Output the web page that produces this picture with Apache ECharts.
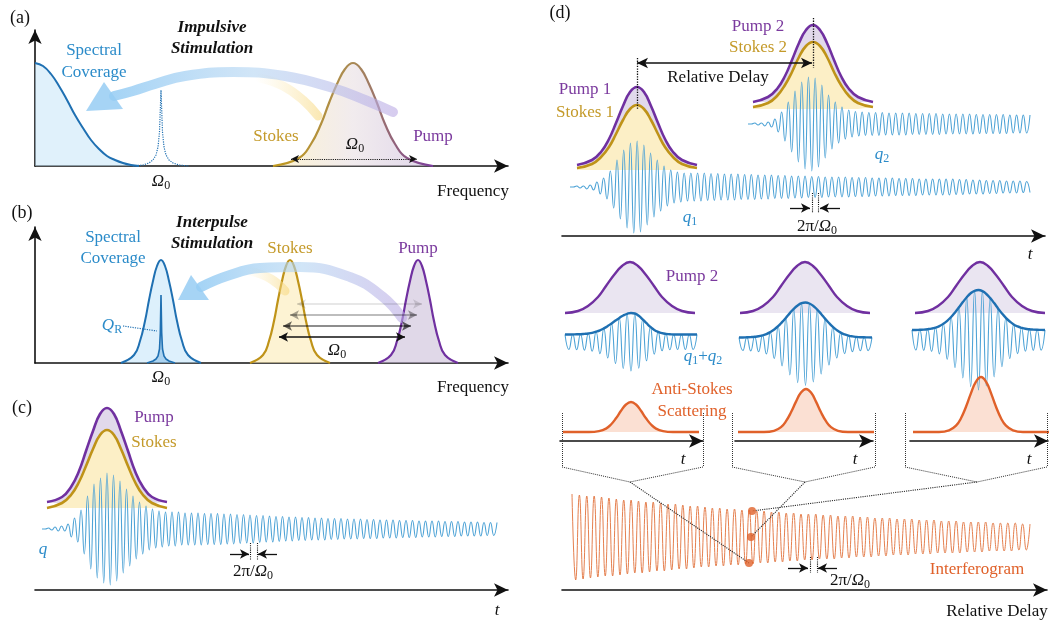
<!DOCTYPE html>
<html>
<head>
<meta charset="utf-8">
<title>Impulsive vs interpulse stimulation</title>
<script src="https://cdn.jsdelivr.net/npm/echarts@6.0.0/dist/echarts.min.js"></script>
<style>
html,body{margin:0;padding:0;background:#ffffff;}
#chart{width:1051px;height:621px;}
</style>
</head>
<body>
<div id="chart"></div>
<script>
/* ================= DATA ================= */
// (a) impulsive stimulation: spectra [frequency, amplitude]
const specCoverageA = [[0,103],[8,100],[16,92],[24,80],[32,66],[40,51],[48,38],[56,26],[64,17],[72,10],[80,6],[88,3],[96,1],[104,0]];
const ramanLineA = [[98,0],[108,1],[114,3],[118,6],[121,11],[123,19],[124.5,34],[126,76],[127.5,34],[129,19],[131,11],[134,6],[138,3],[144,1],[154,0]];
const laserSpectrumA = [[238,0],[264,8],[276,22],[286,42],[294,63],[302,82],[310,97],[318,103],[326,97],[334,82],[342,63],[350,42],[360,22],[372,8],[398,0]];
const arcA = [[358,54],[330,66],[298,78],[250,90],[198,94],[150,90],[120,82],[98,75],[79,70]];
const arcYellowA = [[283,50],[268,66],[248,80],[225,88]];
const headA = [[51,55,69,84,88,57]];

// (b) interpulse stimulation
const specCoverageB = [[86,0],[99,8],[105,22],[110,42],[114,63],[118,82],[122,97],[126,103],[130,97],[134,82],[138,63],[142,42],[147,22],[153,8],[166,0]];
const ramanLineB = [[112,0],[118,2],[121,4],[123,7],[124.5,14],[125.3,30],[126,68],[126.7,30],[127.5,14],[129,7],[131,4],[134,2],[140,0]];
const stokesSpectrumB = [[215,0],[228,8],[234,22],[239,42],[243,63],[247,82],[251,97],[255,103],[259,97],[263,82],[267,63],[271,42],[276,22],[282,8],[295,0]];
const pumpSpectrumB = [[343,0],[356,8],[362,22],[367,42],[371,63],[375,82],[379,97],[383,103],[387,97],[391,82],[395,63],[399,42],[404,22],[410,8],[423,0]];
const arcB = [[367,45],[348,66],[315,86],[265,96],[225,95],[192,87],[166,76]];
const arcYellowB = [[250,72],[236,84],[215,92]];
const headB = [[143,63,156,88,174,63]];

// (c) single pulse pair and vibrational coherence q
const pumpPulseC = [[12,88],[27,93],[36,103],[44,119],[51,139],[58,159],[65,176],[72,182],[79,176],[86,159],[93,139],[100,119],[108,103],[117,93],[132,88]];
const stokesPulseC = [[12,82],[27,87],[36,95],[44,108],[51,124],[58,141],[65,155],[72,160],[79,155],[86,141],[93,124],[100,108],[108,95],[117,87],[132,82]];
const coherenceC = [0,0,1,-1,2,-2,3,-2,5,-8,11,-13,19,-25,33,-40,45,-49,51,-54,56,-56,54,-52,48,-44,40,-37,33,-30,27,-25,23,-21,20,-19,18,-18,17,-17,17,-17,17,-16,
  16,-16,16,-16,16,-16,15.5,-15.5,15.5,-15.5,15.5,-15.5,15,-15,
  15,-15,14.5,-14.5,14.5,-14,14,-14,13.5,-13.5,13.5,-13,13,-13,12.5,
  -12.5,12.5,-12,12,-12,12,-11.5,11.5,-11.5,11.5,-11,11,-11,11,-11,10.5,-10.5,10.5,-10.5,10.5,-10,10,-10,10,
  -10,10,-9.5,9.5,-9.5,9.5,-9.5,9,-9,9,-9,9,-9,8.5,-8.5,8.5,-8.5,8.5,-8.5,8,-8,8,
  -8,8,-8,8,-7.5,7.5,-7.5,7.5,-7.5,7.5,-7,7,-7,7,-7,7,-7,6.5,-6.5,6.5,-6.5,6.5];

// (d) two pulse pairs
const pump1 = [[15,71],[30,76],[39,84],[47,97],[54,113],[61,130],[68,144],[75,149],[82,144],[89,130],[96,113],[103,97],[111,84],[120,76],[135,71]];
const stokes1 = [[15,68],[30,72],[39,79],[47,89],[54,102],[61,116],[68,127],[75,131],[82,127],[89,116],[96,102],[103,89],[111,79],[120,72],[135,68]];
const pump2 = [[191,134],[206,139],[215,147],[223,160],[230,176],[237,193],[244,206],[251,211],[258,206],[265,193],[272,176],[279,160],[287,147],[296,139],[311,134]];
const stokes2 = [[191,129],[206,133],[215,140],[223,151],[230,164],[237,179],[244,190],[251,194],[258,190],[265,179],[272,164],[279,151],[287,140],[296,133],[311,129]];
const coherence1 = [0,0,1,-1,1,-2,2,-3,5,-7,9,-12,16,-21,27,-32,37,-41,44,-46,46,-45,42,-38,34,-30,27,-24,21,-19,17,-16,15,-15,14,-14,14,
  -14,14,-14,14,-13.5,13.5,-13.5,13.5,-13,13,-13,
  13,-13,13,-12.5,12.5,-12.5,12.5,-12.5,12,-12,12,-12,12,-11.5,11.5,-11.5,11.5,-11.5,11,-11,11,-11,11,-10.5,10.5,-10.5,10.5,-10.5,10,-10,10,-10,10,
  -10,10,-10,9.5,-9.5,9.5,-9.5,9.5,-9.5,9,-9,9,-9,9,-9,9,-8.5,8.5,-8.5,8.5,-8.5,8.5,-8.5,8,-8,8,-8,8,-8,8,-8,8,-8,
  8,-7.5,7.5,-7.5,7.5,-7,7,-7,7,-7,6.5,-6.5,6.5,-6.5,6.5,-6,6,-6,6,-6,6,-5.5,5.5,-5.5];
const coherence2 = [0,0,1,-1,1,-2,2,-3,5,-8,12,-17,22,-28,33,-38,42,-45,47,-47,46,-43,39,-34,29,-25,22,-19,17,-15,14,-13,12.5,-12,12,-11.5,
  11.5,-11.5,11.5,-11.5,11.5,-11,11,-11,11,-11,11,-11,11,-10.5,10.5,-10.5,10.5,-10.5,10.5,-10.5,10.5,-10.5,
  10,-10,10,-10,10,-10,10,-10,10,-10,9.5,-9.5,9.5,-9.5,9.5,-9.5,9.5,-9.5,9.5,-9.5,9,-9,9,-9,9,-9,9];
const pump2Window = [[5,128],[18,130],[28,135],[38,144],[46,155],[54,166],[62,175],[70,179],[78,175],[86,166],[94,155],[102,144],[112,135],[122,130],[135,128]];
const sumCoherence1 = [7.5,-7.5,7.6,-7.7,7.8,-8.1,8.5,-9.2,10.3,-11.7,13.6,-15.9,18.6,-21.4,24.1,-26.5,28.2,-29,28.5,-26.2,22.7,-18.8,15.1,-12.1,10.1,-8.8,8.1,-7.8,7.5,-7.5,7.5,-7.5,7.5,-7.5,7.5];
const sumCoherence2 = [6.5,-6.5,6.7,-6.9,7.2,-7.7,8.6,-9.9,11.9,-14.5,17.8,-21.9,26.3,-30.9,35.2,-38.6,40.8,-41.5,40.5,-38,34.4,-30,25.4,-21,17.1,-13.9,11.4,-9.6,8.4,-7.6,7.1,-6.8,6.7,-6.6,6.5];
const sumCoherence3 = [10,-10,10.2,-10.4,10.8,-11.4,12.4,-13.9,16.2,-19.2,23,-27.6,32.7,-37.9,42.8,-46.7,49.2,-50,48.9,-46,41.9,-36.9,31.6,-26.6,22.2,-18.5,15.6,-13.6,12.2,-11.2,10.7,-10.4,10.2,-10.1,10];
const antiStokes1 = [[3,9],[29,9],[39,9.9],[46,12.4],[51,16.5],[56,22.7],[61,30.2],[66,36.5],[71,39],[76,36.5],[81,30.2],[86,22.7],[91,16.5],[96,12.4],[103,9.9],[113,9],[139,9]];
const antiStokes2 = [[3,9],[29,9],[39,10.2],[46,13.9],[51,19.8],[56,28.7],[61,39.4],[66,48.4],[71,52],[76,48.4],[81,39.4],[86,28.7],[91,19.8],[96,13.9],[103,10.2],[113,9],[139,9]];
const antiStokes3 = [[3,9],[29,9],[39,10.6],[46,15.3],[51,22.8],[56,34.2],[61,47.9],[66,59.4],[71,64],[76,59.4],[81,47.9],[86,34.2],[91,22.8],[96,15.3],[103,10.6],[113,9],[139,9]];
const interferogram = [43,-43,42,-42,41,-41,41,-40,40,-39, 39,-39,38,-38,37,-37,37,-36,36,-36,
  35,-35,35,-34,34,-34,33,-33,33,-32, 32,-32,31,-31,31,-30,30,-30,29,-29,
  29,-29,28,-28,28,-28,27,-27,27,-27, 26,-26,26,-26,25,-25,25,-25,24,-24,
  24,-24,23,-23,23,-23,23,-22,22,-22, 22,-22,21,-21,21,-21,21,-20,20,-20,
  20,-20,19,-19,19,-19,19,-18,18,-18, 18,-18,18,-17,17,-17,17,-17,17,-16,
  16,-16,16,-16,16,-16,15,-15,15,-15, 15,-15,15,-14,14,-14,14,-14,14,-14,
  14,-13,13,-13,13];
const sampledDelays = [[187,27],[189,53],[190,79]];

/* ================= STYLE ================= */
const serif = "'Liberation Serif','DejaVu Serif',serif";
const C = {
  purple:'#7030a0', purpleText:'#7b3a9e', purpleFill:'#e1d9eb',
  gold:'#bf9318', goldText:'#c49a2a', yellowFill:'#fcefc6',
  blueDark:'#1f70b2', blueWave:'#4ea3d6', blueText:'#2b8bc9',
  orange:'#e0612a', orangeFill:'#f8cbb4', orangeWave:'#e5804f'
};
const LG = (stops) => new echarts.graphic.LinearGradient(0,0,1,0, stops.map((c,i)=>({offset:i/(stops.length-1), color:c})));

const grids=[], xAxes=[], yAxes=[], series=[];
function axisCfg(min,max,arrow){
  return {type:'value',min,max,show:true,
    axisLine:{show:!!arrow,onZero:true,symbol:['none','arrow'],symbolSize:[10,14],lineStyle:{color:'#111',width:1.6}},
    axisTick:{show:false},axisLabel:{show:false},splitLine:{show:false}};
}
function valueGrid(left,top,width,height,xArrow,yArrow){
  grids.push({left,top,width,height,containLabel:false});
  const gi=grids.length-1;
  xAxes.push(Object.assign(axisCfg(0,width,xArrow),{gridIndex:gi}));
  yAxes.push(Object.assign(axisCfg(0,height,yArrow),{gridIndex:gi}));
  return gi;
}
function waveGrid(left,top,width,height,values){
  grids.push({left,top,width,height,containLabel:false});
  const gi=grids.length-1;
  xAxes.push({gridIndex:gi,type:'category',boundaryGap:false,data:values.map((v,i)=>i),show:false});
  yAxes.push({gridIndex:gi,type:'value',min:-height/2,max:height/2,show:false});
  return gi;
}
function curve(gi,data,lineStyle,o){
  series.push(Object.assign({type:'line',xAxisIndex:gi,yAxisIndex:gi,data,smooth:0.45,symbol:'none',showSymbol:false,
    lineStyle,silent:true,animation:false,clip:false,z:2},o||{}));
}
function marks(gi,items,style,symSize){
  series.push({type:'line',xAxisIndex:gi,yAxisIndex:gi,data:[[0,0]],symbol:'none',showSymbol:false,lineStyle:{opacity:0},
    silent:true,animation:false,z:6,
    markLine:{silent:true,animation:false,symbolSize:symSize||[7,9],label:{show:false},
      lineStyle:Object.assign({type:'solid',width:1.2,color:'#111'},style),
      emphasis:{disabled:true},
      data:items.map(it=>[{coord:it[0],symbol:it[2]||'none'},{coord:it[1],symbol:it[3]||'none'}])}});
}
function head(gi,data,color){
  series.push({type:'custom',xAxisIndex:gi,yAxisIndex:gi,data,silent:true,animation:false,z:3,clip:false,
    renderItem:(p,api)=>({type:'polygon',
      shape:{points:[0,2,4].map(k=>api.coord([api.value(k),api.value(k+1)]))},
      style:{fill:color}})});
}
const bandBlue = LG(['rgba(140,200,243,0.8)','rgba(178,212,242,0.6)','rgba(188,170,228,0.6)']);
const bandYellow = LG(['rgba(250,230,165,0)','rgba(247,215,125,0.6)']);

/* ---------- (a) ---------- */
const gA = valueGrid(35,30,473,136,true,true);
curve(gA, specCoverageA, {color:C.blueDark,width:2}, {areaStyle:{color:'rgba(196,229,248,0.75)',origin:'start'}});
curve(gA, ramanLineA, {color:C.blueDark,width:1.2,type:'dotted'}, {smooth:false});
curve(gA, laserSpectrumA, {width:2.2,color:LG(['#c29a1a','#a98a55','#7a3aa0'])},
  {areaStyle:{origin:'start',color:LG(['rgba(252,237,182,0.9)','rgba(232,222,226,0.85)','rgba(205,190,222,0.9)'])}});
curve(gA, arcYellowA, {width:9,cap:'round',color:bandYellow});
curve(gA, arcA, {width:10,cap:'round',color:bandBlue});
head(gA, headA, 'rgba(150,205,243,0.85)');
marks(gA, [[[256,7],[382,7],'arrow','arrow']], {type:'dotted',width:1.1}, [6,8]);
marks(gA, [[[126,3],[126,-3]]], {width:1,color:'#1f70b2'});

/* ---------- (b) ---------- */
const gB = valueGrid(35,227,473,136,true,true);
curve(gB, specCoverageB, {color:C.blueDark,width:2}, {areaStyle:{color:'rgba(185,224,248,0.7)',origin:'start'}});
curve(gB, ramanLineB, {color:C.blueDark,width:1.6}, {smooth:false,areaStyle:{color:'rgba(90,165,220,0.55)',origin:'start'}});
curve(gB, stokesSpectrumB, {color:C.gold,width:2.2}, {areaStyle:{color:'rgba(252,234,176,0.8)',origin:'start'}});
curve(gB, pumpSpectrumB, {color:C.purple,width:2.2}, {areaStyle:{color:'rgba(200,186,214,0.8)',origin:'start'}});
curve(gB, arcYellowB, {width:9,cap:'round',color:bandYellow});
curve(gB, arcB, {width:10,cap:'round',color:bandBlue});
head(gB, headB, 'rgba(150,205,243,0.85)');
marks(gB, [[[262,59],[387,59],'arrow','arrow']], {color:'rgba(0,0,0,0.13)',width:1.5});
marks(gB, [[[255,48],[382,48],'arrow','arrow']], {color:'rgba(0,0,0,0.35)',width:1.5});
marks(gB, [[[248,37],[376,37],'arrow','arrow']], {color:'rgba(0,0,0,0.6)',width:1.5});
marks(gB, [[[244,26],[370,26],'arrow','arrow']], {color:'#111',width:1.5});
marks(gB, [[[88,37],[122,32]]], {type:'dotted',color:C.blueDark,width:1.2});

/* ---------- (c) ---------- */
const gC = valueGrid(35,380,473,210,true,false);
curve(gC, pumpPulseC, {width:0,opacity:0}, {areaStyle:{color:C.purpleFill,opacity:1,origin:87}});
curve(gC, stokesPulseC, {width:0,opacity:0}, {areaStyle:{color:C.yellowFill,opacity:1,origin:82}});
curve(gC, pumpPulseC, {color:C.purple,width:2.6});
curve(gC, stokesPulseC, {color:C.gold,width:2.6});
const gCw = waveGrid(42,469,455,120,coherenceC);
curve(gCw, coherenceC, {color:C.blueWave,width:1.1}, {smooth:0.5});
marks(gC, [[[215,47],[215,30]],[[222,47],[222,30]]], {type:'dotted',width:1.1});
marks(gC, [[[195,36],[214,36],'none','arrow'],[[242,36],[223,36],'none','arrow']], {width:1.3}, [7,9]);

/* ---------- (d) top ---------- */
const gD = valueGrid(562,10,483,226,true,false);
curve(gD, pump1, {width:0,opacity:0}, {areaStyle:{color:C.purpleFill,opacity:1,origin:71}});
curve(gD, stokes1, {width:0,opacity:0}, {areaStyle:{color:C.yellowFill,opacity:1,origin:66}});
curve(gD, pump2, {width:0,opacity:0}, {areaStyle:{color:C.purpleFill,opacity:1,origin:134}});
curve(gD, stokes2, {width:0,opacity:0}, {areaStyle:{color:C.yellowFill,opacity:1,origin:127}});
curve(gD, pump1, {color:C.purple,width:2.6});
curve(gD, stokes1, {color:C.gold,width:2.6});
curve(gD, pump2, {color:C.purple,width:2.6});
curve(gD, stokes2, {color:C.gold,width:2.6});
const gQ1 = waveGrid(570,137,460,100,coherence1);
curve(gQ1, coherence1, {color:C.blueWave,width:1.1}, {smooth:0.5});
const gQ2 = waveGrid(748,74,282,100,coherence2);
curve(gQ2, coherence2, {color:C.blueWave,width:1.1}, {smooth:0.5});
marks(gD, [[[75,178],[75,126]],[[251,218],[251,168]]], {type:'dotted',width:1.3});
marks(gD, [[[75,173],[250,173],'arrow','arrow']], {width:1.5}, [8,11]);
marks(gD, [[[250,43],[250,23]],[[256,43],[256,23]]], {type:'dotted',width:1.1});
marks(gD, [[[228,28],[248,28],'none','arrow'],[[278,28],[258,28],'none','arrow']], {width:1.3}, [7,9]);

/* ---------- (d) middle: three delays ---------- */
const smalls = [
  {left:560,width:143,wLeft:565,wTop:292,wWidth:132,wave:sumCoherence1,as:antiStokes1},
  {left:735,width:138,wLeft:739,wTop:294,wWidth:133,wave:sumCoherence2,as:antiStokes2},
  {left:910,width:138,wLeft:912,wTop:290,wWidth:133,wave:sumCoherence3,as:antiStokes3}
];
smalls.forEach(s=>{
  const gS = valueGrid(s.left,255,s.width,186,true,false);
  curve(gS, pump2Window, {color:C.purple,width:2.4}, {areaStyle:{color:'rgba(205,192,222,0.6)',origin:128}});
  const gW = waveGrid(s.wLeft,s.wTop,s.wWidth,100,s.wave);
  curve(gW, s.wave, {color:C.blueWave,width:1.1}, {smooth:0.5});
  curve(gW, s.wave.map(Math.abs), {color:C.blueDark,width:2.4}, {smooth:0.5});
  curve(gS, s.as, {color:C.orange,width:2.4}, {areaStyle:{color:'rgba(246,180,150,0.6)',origin:9}});
});

/* ---------- (d) bottom: interferogram ---------- */
const gE = valueGrid(562,410,485,180,true,false);
marks(gE, [
  [[0,177],[0,123]],[[0,123],[68,108]],[[141,123],[68,108]],[[141,177],[141,123]],
  [[170,177],[170,123]],[[170,123],[243,108]],[[313,123],[243,108]],[[313,177],[313,123]],
  [[343,177],[343,123]],[[343,123],[415,108]],[[485,123],[415,108]],[[485,177],[485,123]]
], {type:'dotted',width:1,color:'#333'});
const gIF = waveGrid(572,487,458,100,interferogram);
curve(gIF, interferogram, {color:C.orangeWave,width:1}, {smooth:0.5});
marks(gE, [[[68,108],[187,27]],[[243,108],[189,53]],[[415,108],[190,79]]], {type:'dotted',width:1.1,color:'#222'});
series.push({type:'scatter',xAxisIndex:gE,yAxisIndex:gE,data:sampledDelays,symbolSize:8,itemStyle:{color:C.orange},silent:true,animation:false,z:7});
marks(gE, [[[248,33],[248,17]],[[255,33],[255,17]]], {type:'dotted',width:1.1});
marks(gE, [[[226,22],[246,22],'none','arrow'],[[275,22],[256,22],'none','arrow']], {width:1.3}, [7,9]);

/* ================= TEXT ================= */
function rich(color){
  return {
    i:{font:`italic 17px ${serif}`,fill:color,color:color,lineHeight:20,verticalAlign:'middle'},
    n:{font:`17px ${serif}`,fill:color,color:color,lineHeight:20,verticalAlign:'middle'},
    s:{font:`12px ${serif}`,fill:color,color:color,lineHeight:20,verticalAlign:'bottom'}
  };
}
function T(x,y,text,o){
  o=o||{};
  const size=o.size||17, color=o.color||'#111';
  const st={text,fill:color,
    font:[o.italic?'italic':'',o.bold?'bold':'',size+'px',serif].join(' ').trim(),
    align:o.align||'center',verticalAlign:'middle',textAlign:o.align||'center',textVerticalAlign:'middle'};
  if(o.rich) st.rich=rich(color);
  return {type:'text',x,y,z:100,silent:true,style:st};
}
const om = (x,y,color)=>T(x,y,'{i|Ω}{s|0}',{rich:true,color});
const period = (x,y)=>T(x,y,'{n|2π/}{i|Ω}{s|0}',{rich:true});
const texts = [
  T(20,18,'(a)',{size:18}),
  T(94,51,'Spectral',{color:C.blueText}), T(94,73,'Coverage',{color:C.blueText}),
  T(212,28,'Impulsive',{italic:true,bold:true}), T(212,49,'Stimulation',{italic:true,bold:true}),
  T(276,137,'Stokes',{color:C.goldText}), T(433,137,'Pump',{color:C.purpleText}),
  om(355,145), om(161,182),
  T(473,192,'Frequency'),

  T(22,213,'(b)',{size:18}),
  T(113,238,'Spectral',{color:C.blueText}), T(113,259,'Coverage',{color:C.blueText}),
  T(212,223,'Interpulse',{italic:true,bold:true}), T(212,244,'Stimulation',{italic:true,bold:true}),
  T(290,249,'Stokes',{color:C.goldText}), T(418,249,'Pump',{color:C.purpleText}),
  T(112,326,'{i|Q}{s|R}',{rich:true,color:C.blueText}),
  om(337,351), om(161,378),
  T(473,388,'Frequency'),

  T(22,408,'(c)',{size:18}),
  T(154,418,'Pump',{color:C.purpleText}), T(154,443,'Stokes',{color:C.goldText}),
  T(43,550,'{i|q}',{rich:true,color:C.blueText}),
  period(253,572),
  T(497,611,'t',{italic:true}),

  T(560,13,'(d)',{size:18}),
  T(758,27,'Pump 2',{color:C.purpleText}), T(758,48,'Stokes 2',{color:C.goldText}),
  T(718,78,'Relative Delay'),
  T(585,90,'Pump 1',{color:C.purpleText}), T(585,113,'Stokes 1',{color:C.goldText}),
  T(882,155,'{i|q}{s|2}',{rich:true,color:C.blueText}),
  T(690,218,'{i|q}{s|1}',{rich:true,color:C.blueText}),
  period(817,227),
  T(1030,255,'t',{italic:true}),
  T(692,277,'Pump 2',{color:C.purpleText}),
  T(703,357,'{i|q}{s|1}{n|+}{i|q}{s|2}',{rich:true,color:C.blueText}),
  T(692,390,'Anti-Stokes',{color:C.orange}), T(692,412,'Scattering',{color:C.orange}),
  T(683,460,'t',{italic:true}), T(855,460,'t',{italic:true}), T(1029,460,'t',{italic:true}),
  T(977,570,'Interferogram',{color:C.orange}),
  period(850,581),
  T(997,612,'Relative Delay')
];

const chart = echarts.init(document.getElementById('chart'), null, {renderer:'canvas'});
chart.setOption({
  animation:false,
  backgroundColor:'#ffffff',
  grid:grids, xAxis:xAxes, yAxis:yAxes, series,
  graphic:{elements:texts}
});
</script>
</body>
</html>
